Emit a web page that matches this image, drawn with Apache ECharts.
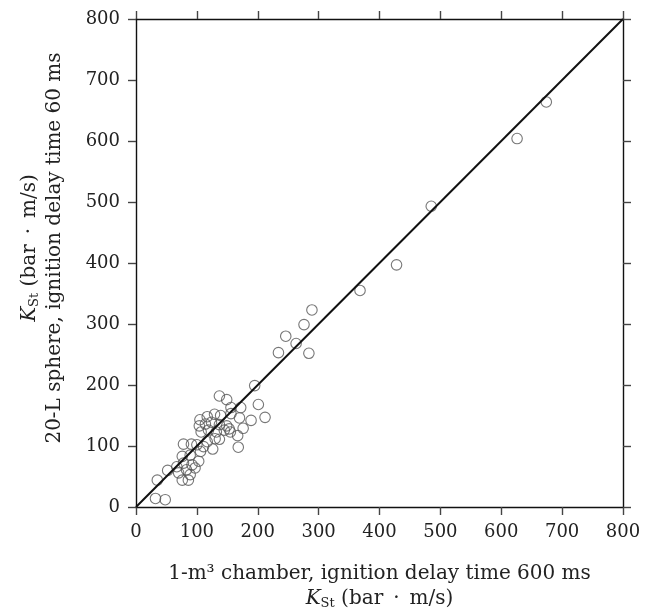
<!DOCTYPE html>
<html>
<head>
<meta charset="utf-8">
<script src="https://cdn.jsdelivr.net/npm/echarts@6/dist/echarts.min.js"></script>
<style>html,body{margin:0;padding:0;background:#fff}#c{width:645px;height:612px}</style>
</head>
<body>
<div id="c"></div>
<script>
// KSt measured in 1-m3 chamber (x) vs 20-L sphere (y), bar·m/s
var chamberKst = [674,626,485,428,368,289,276,246,263,234,284,195,137,149,201,212,156,172,189,
  156,170,176,105,117,129,139,104,114,124,137,149,153,107,119,132,145,155,167,168,
  117,130,137,126,111,78,91,100,106,76,89,78,92,103,67,83,97,89,76,86,35,52,70,32,48];
var sphereKst  = [664,604,493,397,355,323,299,280,268,253,252,199,182,176,168,147,163,163,142,
  153,146,129,143,148,152,150,133,136,139,135,133,128,123,126,123,126,123,117,98,
  107,112,111,95,99,103,103,102,91,83,85,72,69,75,66,61,64,53,44,44,44,60,56,14,12];
var equalityLine = [[0,0],[800,800]];
var axisMin = 0, axisMax = 800, axisStep = 100;

var points = chamberKst.map(function(x,i){return [x, sphereKst[i]];});
var font = 'DejaVu Serif';
var txt = '#222';

var chart = echarts.init(document.getElementById('c'), null, {renderer:'canvas'});
var baseAxis = {
  type:'value', min:axisMin, max:axisMax, interval:axisStep,
  axisLine:{show:true, onZero:false, lineStyle:{color:'#111', width:1.4}},
  axisTick:{show:true, inside:false, length:8, lineStyle:{color:'#444', width:1.4}},
  splitLine:{show:false}
};
var rich = {
  k:{fontFamily:font, fontStyle:'italic', fontSize:20, color:txt},
  sub:{fontFamily:font, fontSize:13, color:txt, padding:[10,0,0,0]},
  n:{fontFamily:font, fontSize:20, color:txt}
};
var kstUnit = '{k|K}{sub|St}{n| (bar\u2002·\u2002m/s)}';
chart.setOption({
  animation:false,
  grid:{left:136, right:22, top:19, bottom:105, containLabel:false, outerBoundsMode:'none'},
  xAxis:[
    Object.assign({}, baseAxis, {position:'bottom',
      axisLabel:{margin:16, fontFamily:font, fontSize:18, color:txt},
      name:'{n|1-m³ chamber, ignition delay time 600 ms}\n' + kstUnit,
      nameLocation:'middle', nameGap:54,
      nameTextStyle:{rich:rich, lineHeight:25, align:'center'}}),
    Object.assign({}, baseAxis, {position:'top', axisLabel:{show:false}})
  ],
  yAxis:[
    Object.assign({}, baseAxis, {position:'left',
      axisLabel:{margin:16, fontFamily:font, fontSize:18, color:txt},
      name:kstUnit + '\n{n|20-L sphere, ignition delay time 60 ms}',
      nameLocation:'middle', nameGap:69, nameRotate:90,
      nameTextStyle:{rich:rich, lineHeight:25, align:'center', padding:[0,0,0,30]}}),
    Object.assign({}, baseAxis, {position:'right', axisLabel:{show:false}})
  ],
  series:[
    {type:'scatter', data:points, symbol:'circle', symbolSize:10.5,
     itemStyle:{color:'rgba(0,0,0,0)', borderColor:'#555', borderWidth:1.1}, z:2},
    {type:'line', data:equalityLine, showSymbol:false, symbol:'none',
     lineStyle:{color:'#111', width:2}, z:3}
  ]
});
</script>
</body>
</html>
